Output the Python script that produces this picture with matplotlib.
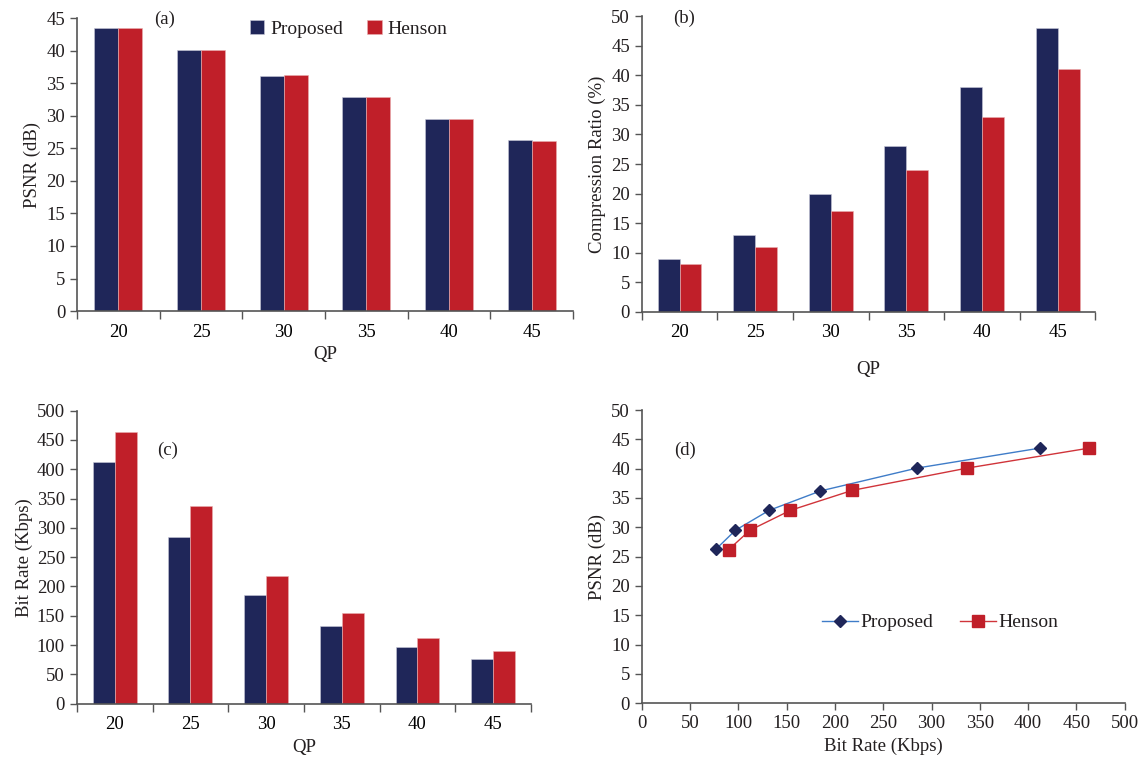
import numpy as np
import matplotlib
matplotlib.use('Agg')
from matplotlib import pyplot as plt

# data
qp = [20, 25, 30, 35, 40, 45]
psnr_prop = [43.5, 40.1, 36.2, 32.9, 29.5, 26.3]
psnr_hen = [43.5, 40.1, 36.3, 32.9, 29.5, 26.2]
cr_prop = [9, 13, 20, 28, 38, 48]
cr_hen = [8, 11, 17, 24, 33, 41]
br_prop = [412, 285, 185, 132, 97, 77]
br_hen = [463, 337, 218, 154, 112, 90]

navy = '#1f2659'
red = '#c01f29'
blue_line = '#3f7cc8'
spine_col = '#555555'
txt_col = '#231f20'

plt.rcParams['font.family'] = ['Liberation Serif', 'DejaVu Serif']
plt.rcParams['font.size'] = 13.5
plt.rcParams['text.color'] = txt_col
plt.rcParams['axes.labelcolor'] = txt_col

fig = plt.figure(figsize=(11.48, 7.59), dpi=100)


def style_axes(ax):
    for s in ['top', 'right']:
        ax.spines[s].set_visible(False)
    for s in ['left', 'bottom']:
        ax.spines[s].set_color(spine_col)
        ax.spines[s].set_linewidth(1.2)
    ax.tick_params(labelcolor=txt_col, labelsize=13.5, length=5, width=1.0, color=spine_col)


def bar_panel(ax, p, h, ymax, ystep):
    x = np.arange(len(qp))
    w = 0.29
    ax.bar(x - w / 2, p, w, color=navy, edgecolor='#c8c8d8', linewidth=0.4, label='Proposed')
    ax.bar(x + w / 2, h, w, color=red, edgecolor='#e8b0b0', linewidth=0.4, label='Henson')
    ax.set_xlim(-0.5, len(qp) - 0.5)
    ax.set_ylim(0, ymax)
    ax.set_yticks(np.arange(0, ymax + 1, ystep))
    # major ticks on category boundaries, labels centred on minor ticks
    ax.set_xticks(np.arange(-0.5, len(qp)), minor=False)
    ax.set_xticklabels([])
    ax.set_xticks(x, minor=True)
    ax.set_xticklabels([str(q) for q in qp], minor=True)
    style_axes(ax)
    ax.tick_params(axis='x', which='minor', length=0, pad=9, labelsize=13.5)
    ax.tick_params(axis='x', which='major', length=6)


# (a)
ax1 = fig.add_axes([0.0671, 0.5902, 0.432, 0.3857])
bar_panel(ax1, psnr_prop, psnr_hen, 45, 5)
ax1.set_ylabel('PSNR (dB)', labelpad=4)
ax1.set_xlabel('QP', labelpad=4)
ax1.text(0.177, 0.995, '(a)', transform=ax1.transAxes, ha='center', va='center')
ax1.legend(loc='center', bbox_to_anchor=(0.548, 0.963), ncol=2, frameon=False,
           fontsize=14, handlelength=0.75, handleheight=0.7, columnspacing=1.25, handletextpad=0.3,
           borderpad=0, borderaxespad=0)

# (b)
ax2 = fig.add_axes([0.559, 0.5893, 0.3952, 0.3892])
bar_panel(ax2, cr_prop, cr_hen, 50, 5)
ax2.set_ylabel('Compression Ratio (%)', labelpad=4)
ax2.set_xlabel('QP', labelpad=14)
ax2.text(0.093, 0.994, '(b)', transform=ax2.transAxes, ha='center', va='center')

# (c)
ax3 = fig.add_axes([0.0669, 0.0729, 0.3957, 0.386])
bar_panel(ax3, br_prop, br_hen, 500, 50)
ax3.set_ylabel('Bit Rate (Kbps)', labelpad=3)
ax3.set_xlabel('QP', labelpad=4)
ax3.text(0.2, 0.866, '(c)', transform=ax3.transAxes, ha='center', va='center')

# (d)
ax4 = fig.add_axes([0.559, 0.0734, 0.4207, 0.3864])
ax4.plot(br_prop, psnr_prop, '-', color=blue_line, linewidth=1.0,
         marker='D', markersize=6, markerfacecolor=navy, markeredgecolor=navy, label='Proposed')
ax4.plot(br_hen, psnr_hen, '-', color='#d0343a', linewidth=1.0,
         marker='s', markersize=9, markerfacecolor=red, markeredgecolor=red, label='Henson')
ax4.set_xlim(0, 500)
ax4.set_ylim(0, 50)
ax4.set_xticks(np.arange(0, 501, 50))
ax4.set_yticks(np.arange(0, 51, 5))
ax4.set_xlabel('Bit Rate (Kbps)', labelpad=4)
ax4.set_ylabel('PSNR (dB)', labelpad=4)
ax4.text(0.0886, 0.864, '(d)', transform=ax4.transAxes, ha='center', va='center')
style_axes(ax4)
ax4.legend(loc='center', bbox_to_anchor=(0.6176, 0.275), ncol=2, frameon=False, fontsize=14,
           handlelength=1.85, columnspacing=1.34, handletextpad=0.15, borderpad=0, borderaxespad=0)

fig.savefig('out.png', dpi=100)
